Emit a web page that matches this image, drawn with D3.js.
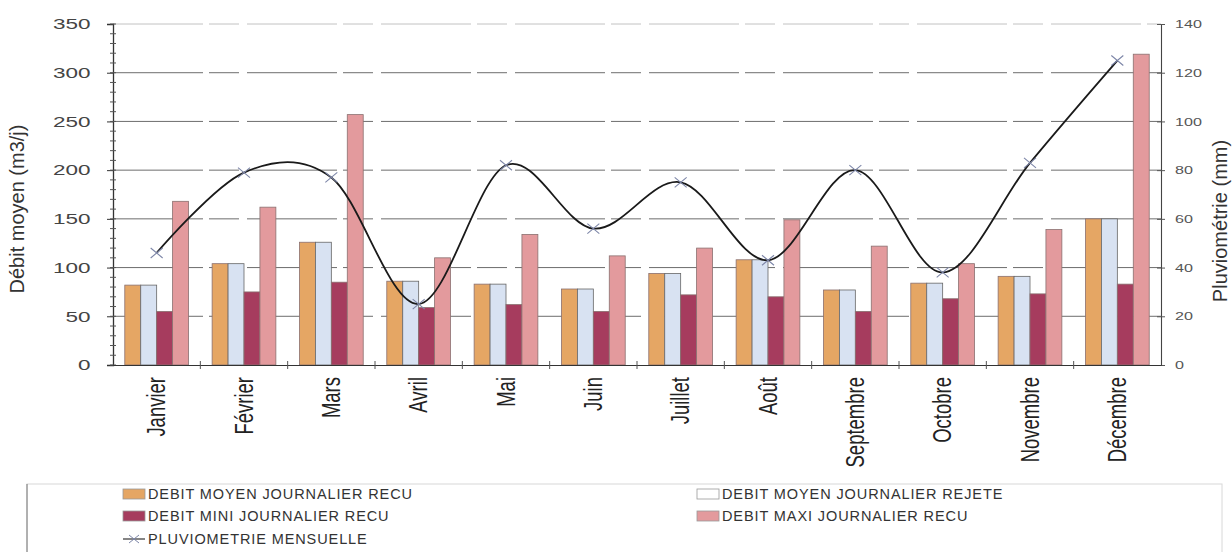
<html>
  <head>
    <meta charset="utf-8">
    <script type="text/javascript" src="https://cdn.jsdelivr.net/npm/d3@7"></script>
    <style>
      body { margin: 0; background: #fff; }
      text { font-family: "Liberation Sans", Arial, sans-serif; }
    </style>
  </head>
  <body>
    <script type="text/javascript">

    // values
    var months = ["Janvier", "Février", "Mars", "Avril", "Mai", "Juin", "Juillet", "Août", "Septembre", "Octobre", "Novembre", "Décembre"];
    var debitMoyenRecu   = [82, 104, 126, 86, 83, 78, 94, 108, 77, 84, 91, 150];
    var debitMoyenRejete = [82, 104, 126, 86, 83, 78, 94, 108, 77, 84, 91, 150];
    var debitMiniRecu    = [55, 75, 85, 59, 62, 55, 72, 70, 55, 68, 73, 83];
    var debitMaxiRecu    = [168, 162, 257, 110, 134, 112, 120, 149, 122, 104, 139, 319];
    var pluviometrie     = [46, 79, 77, 25, 82, 56, 75, 43, 80, 38, 83, 125];

    var leftTicks  = [0, 50, 100, 150, 200, 250, 300, 350];
    var rightTicks = [0, 20, 40, 60, 80, 100, 120, 140];

    var seriesNames = ["DEBIT MOYEN JOURNALIER RECU", "DEBIT MOYEN JOURNALIER REJETE", "DEBIT MINI JOURNALIER RECU", "DEBIT MAXI JOURNALIER RECU"];
    var lineName = "PLUVIOMETRIE MENSUELLE";
    var leftTitle = "Débit moyen (m3/j)";
    var rightTitle = "Pluviométrie (mm)";

    var colors = ["#e5a664", "#d8e2f2", "#a63c5e", "#e39a9d"];

    function drawChart(){
      var W = 1232, H = 552;
      var left = 113, right = 1161, top = 24, bottom = 365;

      var svg = d3.select("body").append("svg")
                  .attr("width", W)
                  .attr("height", H);

      var series = [debitMoyenRecu, debitMoyenRejete, debitMiniRecu, debitMaxiRecu];

      var x = d3.scaleBand().domain(months).range([left, right])
                .paddingInner(0.27).paddingOuter(0.135);
      var xs = d3.scaleBand().domain(d3.range(series.length)).range([0, x.bandwidth()]);
      var yL = d3.scaleLinear().domain([0, 350]).range([bottom, top]);
      var yR = d3.scaleLinear().domain([0, 140]).range([bottom, top]);

      // gridlines
      svg.append("g").selectAll("line")
         .data(leftTicks.slice(1))
         .enter().append("line")
         .attr("x1", left).attr("x2", right)
         .attr("y1", function(d){ return yL(d); })
         .attr("y2", function(d){ return yL(d); })
         .attr("stroke", "#555")
         .attr("stroke-width", 1)
         .attr("stroke-dasharray", "90,6,30,8")
         .attr("opacity", function(d){ return d == 350 ? 0.35 : 0.85; });

      // bars
      var groups = svg.append("g").selectAll("g")
                      .data(months)
                      .enter().append("g")
                      .attr("transform", function(d){ return "translate(" + x(d) + ",0)"; });
      groups.selectAll("rect")
            .data(function(d, i){ return series.map(function(s, k){ return {k: k, v: s[i]}; }); })
            .enter().append("rect")
            .attr("x", function(d){ return xs(d.k); })
            .attr("y", function(d){ return yL(d.v); })
            .attr("width", xs.bandwidth())
            .attr("height", function(d){ return yL(0) - yL(d.v); })
            .attr("fill", function(d){ return colors[d.k]; })
            .attr("stroke", function(d){ return d.k == 1 ? "#666" : "#8a7070"; })
            .attr("stroke-width", 0.8);

      // left axis
      var axisL = svg.append("g").attr("transform", "translate(" + left + ",0)")
                     .call(d3.axisLeft(yL).tickValues(leftTicks).tickSize(6));
      axisL.select(".domain").attr("stroke", "#333").attr("stroke-width", 1.3);
      axisL.selectAll("line").attr("stroke", "#333");
      axisL.selectAll("text")
           .attr("x", -15)
           .attr("transform", "scale(1.5,1)")
           .style("font-size", "15px")
           .attr("fill", "#444");
      svg.append("g").selectAll("line")
         .data(d3.range(0, 351, 10))
         .enter().append("line")
         .attr("x1", left - 3).attr("x2", left + 3)
         .attr("y1", function(d){ return yL(d); })
         .attr("y2", function(d){ return yL(d); })
         .attr("stroke", "#555");

      // right axis
      var axisR = svg.append("g").attr("transform", "translate(" + right + ",0)")
                     .call(d3.axisRight(yR).tickValues(rightTicks).tickSize(4));
      axisR.select(".domain").attr("stroke", "#444").attr("stroke-width", 1.1);
      axisR.selectAll("line").attr("x1", -4).attr("stroke", "#555");
      axisR.selectAll("text")
           .attr("x", 10)
           .attr("transform", "scale(1.4,1)")
           .style("font-size", "11.5px")
           .attr("fill", "#555");

      // bottom axis
      var axisB = svg.append("g").attr("transform", "translate(0," + bottom + ")")
                     .call(d3.axisBottom(x).tickSize(0));
      axisB.select(".domain").attr("stroke", "#333").attr("stroke-width", 1.2);
      axisB.selectAll("text")
           .attr("x", 0).attr("y", 0).attr("dy", "0.35em")
           .attr("transform", "translate(0,12) scale(1.35,1) rotate(-90)")
           .style("text-anchor", "end")
           .style("font-size", "18.5px")
           .attr("fill", "#222");
      var gap = (x.step() - x.bandwidth()) / 2;
      svg.append("g").selectAll("line")
         .data(months.slice(1))
         .enter().append("line")
         .attr("x1", function(d){ return x(d) - gap; })
         .attr("x2", function(d){ return x(d) - gap; })
         .attr("y1", bottom - 4).attr("y2", bottom + 4)
         .attr("stroke", "#555");

      // pluviometrie line
      var line = d3.line()
                   .x(function(d, i){ return x(months[i]) + x.bandwidth() / 2; })
                   .y(function(d){ return yR(d); })
                   .curve(d3.curveCatmullRom.alpha(0));
      svg.append("path")
         .datum(pluviometrie)
         .attr("d", line)
         .attr("fill", "none")
         .attr("stroke", "#1a1a1a")
         .attr("stroke-width", 1.8);
      svg.append("g").selectAll("path")
         .data(pluviometrie)
         .enter().append("path")
         .attr("transform", function(d, i){ return "translate(" + (x(months[i]) + x.bandwidth() / 2) + "," + yR(d) + ")"; })
         .attr("d", "M-6,-5L6,5M-6,5L6,-5")
         .attr("stroke", "#7d86a8")
         .attr("stroke-width", 1.1)
         .attr("fill", "none");

      // axis titles
      svg.append("text")
         .attr("transform", "translate(24,209) rotate(-90)")
         .style("text-anchor", "middle")
         .style("font-size", "20px")
         .attr("fill", "#333")
         .text(leftTitle);
      svg.append("text")
         .attr("transform", "translate(1227,221) rotate(-90)")
         .style("text-anchor", "middle")
         .style("font-size", "20px")
         .attr("fill", "#333")
         .text(rightTitle);

      // legend
      var lg = svg.append("g");
      lg.append("rect")
        .attr("x", 27).attr("y", 484).attr("width", 1195).attr("height", 90)
        .attr("fill", "none").attr("stroke", "#d8d8d8");
      lg.append("line")
        .attr("x1", 27).attr("x2", 27).attr("y1", 484).attr("y2", 552)
        .attr("stroke", "#777");
      var items = [
        {name: seriesNames[0], c: colors[0], x: 123, y: 494},
        {name: seriesNames[1], c: "#ffffff", x: 697, y: 494},
        {name: seriesNames[2], c: colors[2], x: 123, y: 516},
        {name: seriesNames[3], c: colors[3], x: 697, y: 516}
      ];
      var li = lg.selectAll("g.item").data(items).enter().append("g").attr("class", "item");
      li.append("rect")
        .attr("x", function(d){ return d.x; })
        .attr("y", function(d){ return d.y - 5; })
        .attr("width", 22).attr("height", 10)
        .attr("fill", function(d){ return d.c; })
        .attr("stroke", "#999").attr("stroke-width", 0.8);
      li.append("text")
        .attr("x", function(d){ return d.x + 25; })
        .attr("y", function(d){ return d.y; })
        .attr("dy", "0.36em")
        .style("font-size", "14.5px")
        .style("letter-spacing", "0.9px")
        .attr("fill", "#333")
        .text(function(d){ return d.name; });

      lg.append("line")
        .attr("x1", 123).attr("x2", 145).attr("y1", 539).attr("y2", 539)
        .attr("stroke", "#333").attr("stroke-width", 1.2);
      lg.append("path")
        .attr("transform", "translate(134,539)")
        .attr("d", "M-5,-4L5,4M-5,4L5,-4")
        .attr("stroke", "#7d86a8").attr("fill", "none");
      lg.append("text")
        .attr("x", 148).attr("y", 539).attr("dy", "0.36em")
        .style("font-size", "14.5px")
        .style("letter-spacing", "0.9px")
        .attr("fill", "#333")
        .text(lineName);
    }

    window.onload = function(){
      drawChart();
    }
    </script>
  </body>
</html>
